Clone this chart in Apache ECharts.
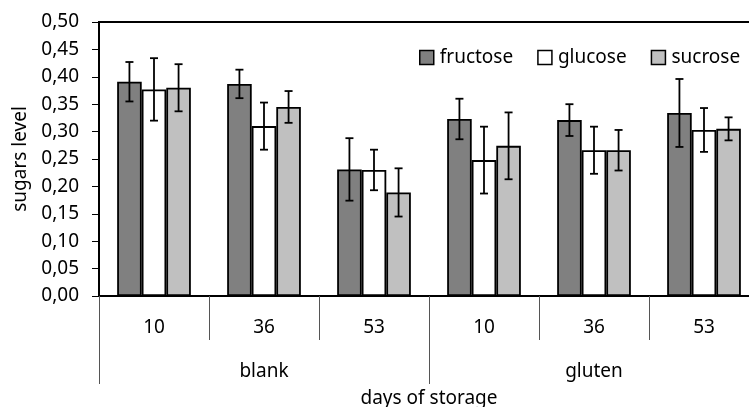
<!DOCTYPE html>
<html>
<head>
<meta charset="utf-8">
<script src="https://cdn.jsdelivr.net/npm/echarts@6/dist/echarts.min.js"></script>
<style>
  html, body { margin: 0; padding: 0; background: #fff; }
  #chart { width: 749px; height: 407px; }
</style>
</head>
<body>
<div id="chart"></div>
<script>
var days = ['10', '36', '53', '10', '36', '53'];
var groups = ['blank', 'gluten'];
var sugarNames = ['fructose', 'glucose', 'sucrose'];
var sugarColors = ['#808080', '#ffffff', '#c0c0c0'];

var fructose = [0.391, 0.387, 0.231, 0.323, 0.321, 0.334];
var glucose = [0.377, 0.310, 0.230, 0.248, 0.266, 0.303];
var sucrose = [0.380, 0.345, 0.189, 0.274, 0.266, 0.305];

// error half widths
var fructoseErr = [0.036, 0.026, 0.057, 0.037, 0.029, 0.062];
var glucoseErr = [0.057, 0.043, 0.037, 0.061, 0.043, 0.040];
var sucroseErr = [0.043, 0.029, 0.044, 0.061, 0.037, 0.021];

var yTicks = [0, 0.05, 0.10, 0.15, 0.20, 0.25, 0.30, 0.35, 0.40, 0.45, 0.50];

var values = [fructose, glucose, sucrose];
var errors = [fructoseErr, glucoseErr, sucroseErr];
var FONT = 'Noto Sans';
var catGap = 0.33;

var myChart = echarts.init(document.getElementById('chart'));

var series = [];
for (var s = 0; s < 3; s++) {
    series.push({
        name: sugarNames[s],
        type: 'bar',
        data: values[s],
        barGap: 0,
        barCategoryGap: '33%',
        itemStyle: {color: sugarColors[s], borderColor: '#000', borderWidth: 1.8},
        emphasis: {disabled: true}
    });
}
for (var s = 0; s < 3; s++) {
    (function (idx) {
        var data = [];
        for (var i = 0; i < days.length; i++) {
            data.push([i, values[idx][i], errors[idx][i]]);
        }
        series.push({
            name: sugarNames[idx] + ' err',
            type: 'custom',
            data: data,
            z: 10,
            renderItem: function (params, api) {
                var x = api.value(0);
                var v = api.value(1);
                var e = api.value(2);
                var bandW = api.size([1, 0])[0];
                var barW = bandW * (1 - catGap) / 3;
                var dx = (idx - 1) * barW;
                var hi = api.coord([x, v + e]);
                var lo = api.coord([x, v - e]);
                var cx = hi[0] + dx;
                var cap = 4;
                var st = {stroke: '#000', lineWidth: 1.8};
                return {
                    type: 'group',
                    children: [
                        {type: 'line', shape: {x1: cx, y1: hi[1], x2: cx, y2: lo[1]}, style: st},
                        {type: 'line', shape: {x1: cx - cap, y1: hi[1], x2: cx + cap, y2: hi[1]}, style: st},
                        {type: 'line', shape: {x1: cx - cap, y1: lo[1], x2: cx + cap, y2: lo[1]}, style: st}
                    ]
                };
            }
        });
    })(s);
}

var option = {
    animation: false,
    textStyle: {fontFamily: FONT},
    grid: {
        left: 99, width: 660, top: 22, height: 274,
        outerBoundsMode: 'none',
        containLabel: false,
        show: true, borderColor: '#000', borderWidth: 2
    },
    legend: {
        data: sugarNames,
        left: 414,
        top: 43,
        itemWidth: 14,
        itemHeight: 14,
        itemGap: 24,
        icon: 'rect',
        itemStyle: {borderColor: '#000', borderWidth: 1.5},
        textStyle: {fontFamily: FONT, fontSize: 19, color: '#000', padding: [0, 0, 0, 1]}
    },
    xAxis: [
        {
            type: 'category',
            data: days,
            position: 'bottom',
            axisLine: {lineStyle: {color: '#000', width: 2}},
            axisTick: {show: true, interval: 0, length: 44, lineStyle: {color: '#555', width: 1}},
            axisLabel: {interval: 0, margin: 22, fontSize: 19, color: '#000', fontFamily: FONT}
        },
        {
            type: 'category',
            data: groups,
            position: 'bottom',
            offset: 0,
            axisLine: {show: false},
            axisTick: {show: true, interval: 0, length: 88, lineStyle: {color: '#555', width: 1}},
            axisLabel: {interval: 0, margin: 66, fontSize: 19, color: '#000', fontFamily: FONT},
            name: 'days of storage',
            nameLocation: 'middle',
            nameGap: 93,
            nameTextStyle: {fontSize: 19, color: '#000', fontFamily: FONT}
        }
    ],
    yAxis: {
        type: 'value',
        min: 0,
        max: 0.5,
        interval: 0.05,
        name: 'sugars level',
        nameLocation: 'middle',
        nameGap: 69,
        nameTextStyle: {fontSize: 19, color: '#000', fontFamily: FONT},
        axisLine: {show: true, lineStyle: {color: '#000', width: 2}},
        axisTick: {show: true, length: 7, lineStyle: {color: '#000', width: 1}},
        splitLine: {show: false},
        axisLabel: {
            margin: 20, fontSize: 19, color: '#000', fontFamily: FONT,
            formatter: function (v) {
                for (var i = 0; i < yTicks.length; i++) {
                    if (Math.abs(yTicks[i] - v) < 1e-9) return yTicks[i].toFixed(2).replace('.', ',');
                }
                return '';
            }
        }
    },
    series: series
};

myChart.setOption(option);
</script>
</body>
</html>
